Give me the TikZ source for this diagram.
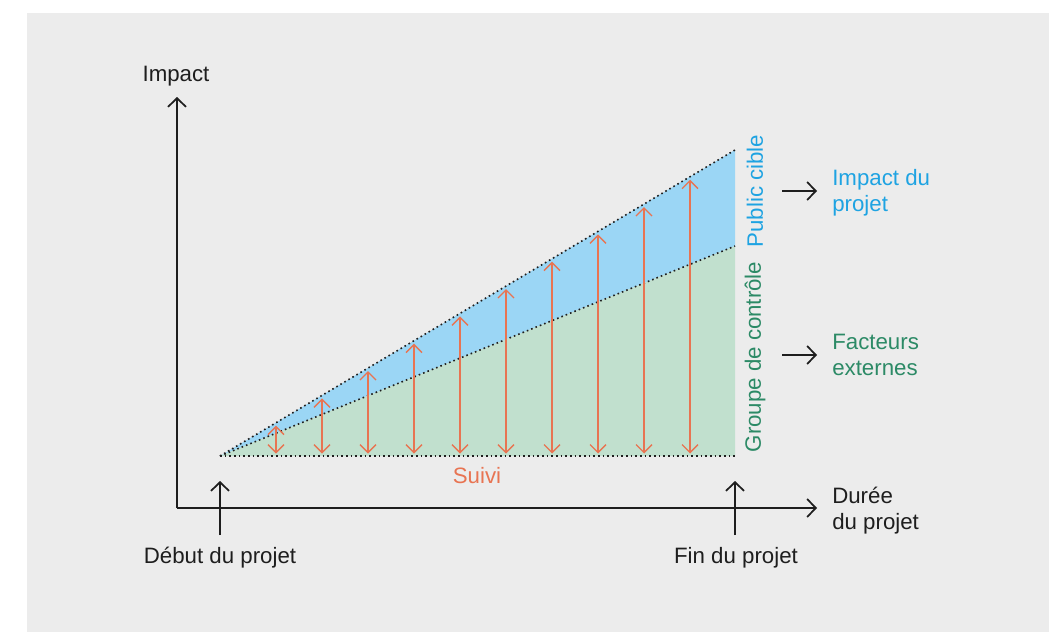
\documentclass[tikz,border=0pt]{standalone}
\usepackage{fontspec}
\setmainfont{Liberation Sans}
\usetikzlibrary{arrows.meta}
\definecolor{bggrey}{RGB}{236,236,236}
\definecolor{fillblue}{RGB}{155,214,245}
\definecolor{fillgreen}{RGB}{193,224,206}
\definecolor{textblue}{RGB}{30,163,226}
\definecolor{textgreen}{RGB}{44,138,102}
\definecolor{suiviorange}{RGB}{232,116,82}
\definecolor{ink}{RGB}{30,30,30}

\tikzset{
  axis/.style={draw=ink, line width=1.5pt, -{Straight Barb[length=6.5pt,width=13.5pt,line width=1.3pt]}},
  dotline/.style={draw=ink, line width=1.2pt, dash pattern=on 1.2pt off 2.3pt},
  suivi/.style={draw=suiviorange, line width=1pt, {Straight Barb[length=6pt,width=12pt]}-{Straight Barb[length=6pt,width=12pt]}},
  lbl/.style={inner sep=0pt, font=\fontsize{16.7}{19}\selectfont},
}

\begin{document}
\begin{tikzpicture}[x=0.75pt, y=-0.75pt]
        \fill[white] (0,0) rectangle (1049,632);
        \fill[bggrey] (27,13) rectangle (1049,632);

        \coordinate (O) at (177,508);
        \coordinate (Ytop) at (177,97);
        \coordinate (Xend) at (817,508);
        \coordinate (S) at (220,456);
        \coordinate (E) at (735,456);
        \coordinate (T) at (735,150);
        \coordinate (M) at (735,246);
        \coordinate (S0) at (220,535);
        \coordinate (S1) at (220,481);
        \coordinate (E0) at (735,535);
        \coordinate (E1) at (735,481);
        \coordinate (P0) at (782,191);
        \coordinate (P1) at (817,191);
        \coordinate (F0) at (782,355);
        \coordinate (F1) at (817,355);

        \fill[fillblue] (S)--(T)--(M)--cycle;
        \fill[fillgreen] (S)--(M)--(E)--cycle;
        \draw[dotline] (S)--(T);
        \draw[dotline] (S)--(M);
        \draw[dotline] (S)--(E);

        % suivi arrows
        \foreach \x in {276,322,...,690}
            \draw[suivi] (\x,{456-(\x-220)/515*306+3}) -- (\x,453.5);

        \draw[axis] (O)--(Ytop);
        \draw[axis] (O)--(Xend);
        \draw[axis] (S0)--(S1);
        \draw[axis] (E0)--(E1);
        \draw[axis] (P0)--(P1);
        \draw[axis] (F0)--(F1);

        \node[lbl, anchor=base, text=ink] (impact) at (176,81) {Impact};
        \node[lbl, anchor=base west, align=left, text=ink] (duree) at (832,529) {Durée\\du projet};
        \node[lbl, anchor=base, text=ink] (debut) at (220,563) {Début du projet};
        \node[lbl, anchor=base, text=ink] (fin) at (736,563) {Fin du projet};
        \node[lbl, anchor=base, text=suiviorange] (suivilbl) at (477,483) {Suivi};
        \node[lbl, anchor=base west, align=left, text=textblue] (projet) at (832,211) {Impact du\\projet};
        \node[lbl, anchor=base west, align=left, text=textgreen] (externes) at (832,375) {Facteurs\\externes};
        \node[lbl, rotate=90, text=textblue] (cible) at (755,191) {Public cible};
        \node[lbl, rotate=90, text=textgreen] (controle) at (755,357) {Groupe de contrôle};
\end{tikzpicture}
\end{document}
